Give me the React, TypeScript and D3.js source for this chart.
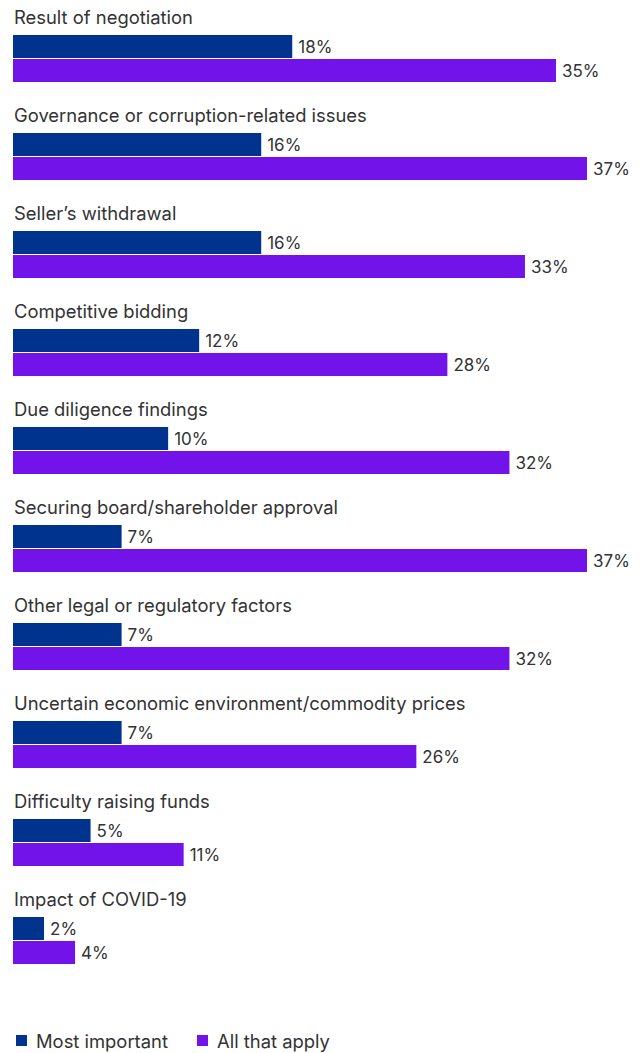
import React from "react";
import * as d3 from "d3";

const categories = [
  "Result of negotiation",
  "Governance or corruption-related issues",
  "Seller’s withdrawal",
  "Competitive bidding",
  "Due diligence findings",
  "Securing board/shareholder approval",
  "Other legal or regulatory factors",
  "Uncertain economic environment/commodity prices",
  "Difficulty raising funds",
  "Impact of COVID-19",
];
const mostImportant = [18, 16, 16, 12, 10, 7, 7, 7, 5, 2];
const allThatApply = [35, 37, 33, 28, 32, 37, 32, 26, 11, 4];
const seriesNames = ["Most important", "All that apply"];
const colors = ["#00338D", "#7213EA"];

export default function App() {
  const W = 640;
  const H = 1053;
  const x0 = 13;
  const x = d3.scaleLinear().domain([0, 37]).range([x0, 587]);
  const groupY = d3
    .scaleBand<string>()
    .domain(categories)
    .range([35, 35 + 98 * categories.length])
    .paddingInner(0)
    .paddingOuter(0);
  const barH = 23;
  const font = "Inter, 'Liberation Sans', Arial, sans-serif";
  const series = [mostImportant, allThatApply];
  return (
    <svg
      width={W}
      height={H}
      style={{ position: "absolute", left: 0, top: 0, background: "#fff" }}
      fontFamily={font}
    >
      {categories.map((c, i) => {
        const gy = groupY(c)!;
        return (
          <g key={c}>
            <text x={x0 + 1} y={gy - 11} fontSize={18.4} fill="#333">
              {c}
            </text>
            {series.map((s, j) => {
              const y = gy + j * (barH + 1);
              return (
                <g key={j}>
                  <rect
                    x={x(0)}
                    y={y}
                    width={x(s[i]) - x(0)}
                    height={barH}
                    fill={colors[j]}
                  />
                  <text
                    x={x(s[i]) + 6}
                    y={y + barH / 2}
                    dy="0.36em"
                    fontSize={17}
                    fill="#333"
                  >
                    {s[i]}%
                  </text>
                </g>
              );
            })}
          </g>
        );
      })}
      {seriesNames.map((n, j) => {
        const lx = j === 0 ? 16 : 197;
        return (
          <g key={n}>
            <rect x={lx} y={1035} width={11} height={11} fill={colors[j]} />
            <text x={lx + 20} y={1047.5} fontSize={18.4} fill="#333">
              {n}
            </text>
          </g>
        );
      })}
    </svg>
  );
}
